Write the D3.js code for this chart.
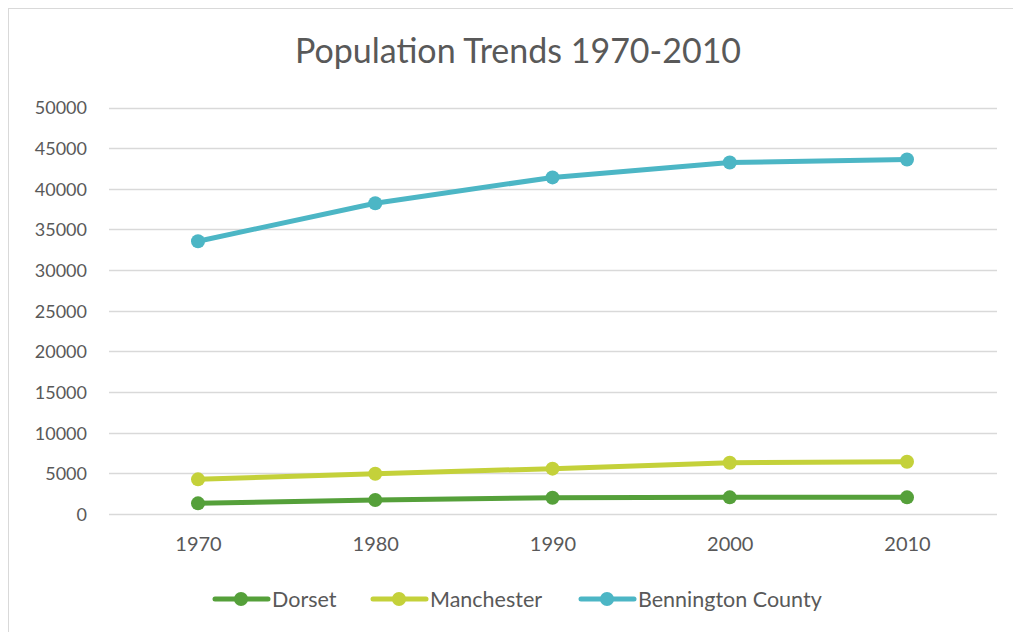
<!DOCTYPE html>
<html><head><meta charset="utf-8">
<script src="https://cdn.jsdelivr.net/npm/d3@7"></script>
<style>body{margin:0;background:#fff;} svg{display:block;}</style>
</head><body>
<svg id="c" width="1013" height="632"></svg>
<script>
const years = ["1970","1980","1990","2000","2010"];
const dorset = [1310, 1720, 1990, 2050, 2050];
const manchester = [4260, 4950, 5580, 6300, 6430];
const bennington = [33550, 38230, 41400, 43230, 43600];
const seriesNames = ["Dorset","Manchester","Bennington County"];
const seriesColors = ["#55a03a","#c4d13a","#4cb6c5"];
const yTicks = [0,5000,10000,15000,20000,25000,30000,35000,40000,45000,50000];
const title = "Population Trends 1970-2010";

const series = [dorset, manchester, bennington].map((v,i)=>({name:seriesNames[i], color:seriesColors[i], values:v}));
const svg = d3.select("#c");
const font = "Lato, 'Open Sans', sans-serif";
const grey = "#595959";

svg.append("rect").attr("x",8.5).attr("y",8.5).attr("width",1020).attr("height",640)
  .attr("fill","#fff").attr("stroke","#d9d9d9").attr("stroke-width",1);

svg.append("text").attr("x",518).attr("y",63).attr("text-anchor","middle")
  .attr("font-family",font).attr("font-size",34).attr("fill",grey).text(title);

const x = d3.scalePoint().domain(years).range([198,907]);
const y = d3.scaleLinear().domain([0,50000]).range([514,107.5]);

// gridlines
svg.append("g").selectAll("line").data(yTicks).join("line")
  .attr("x1",109).attr("x2",997)
  .attr("y1",d=>Math.round(y(d))+0.5).attr("y2",d=>Math.round(y(d))+0.5)
  .attr("stroke","#d9d9d9").attr("stroke-width",1.3);

// y axis
const yAxis = svg.append("g").attr("transform","translate(87,0)")
  .call(d3.axisLeft(y).tickValues(yTicks).tickSize(0).tickPadding(0).tickFormat(d3.format("d")));
yAxis.select(".domain").remove();
yAxis.selectAll("text").attr("font-family",font).attr("font-size",18).attr("fill",grey).attr("dy","0.35em");

// x axis
const xAxis = svg.append("g").attr("transform","translate(0,514)")
  .call(d3.axisBottom(x).tickSize(0).tickPadding(23));
xAxis.select(".domain").remove();
xAxis.selectAll("text").attr("font-family",font).attr("font-size",20).attr("fill",grey);

const line = d3.line().x((d,i)=>x(years[i])).y(d=>y(d));
const g = svg.append("g");
series.forEach(s=>{
  g.append("path").datum(s.values).attr("d",line).attr("fill","none")
    .attr("stroke",s.color).attr("stroke-width",5).attr("stroke-linejoin","round").attr("stroke-linecap","round");
  g.selectAll(null).data(s.values).join("circle")
    .attr("cx",(d,i)=>x(years[i])).attr("cy",d=>y(d)).attr("r",7).attr("fill",s.color);
});

// legend
const legX = [214, 372, 580];
const lg = svg.append("g");
series.forEach((s,i)=>{
  const gx = legX[i];
  lg.append("line").attr("x1",gx+1).attr("x2",gx+54).attr("y1",599).attr("y2",599)
    .attr("stroke",s.color).attr("stroke-width",5).attr("stroke-linecap","round");
  lg.append("circle").attr("cx",gx+27).attr("cy",599).attr("r",7).attr("fill",s.color);
  lg.append("text").attr("x",gx+58).attr("y",599).attr("dy","0.35em")
    .attr("font-family",font).attr("font-size",21.5).attr("fill",grey).text(s.name);
});
</script>
</body></html>
